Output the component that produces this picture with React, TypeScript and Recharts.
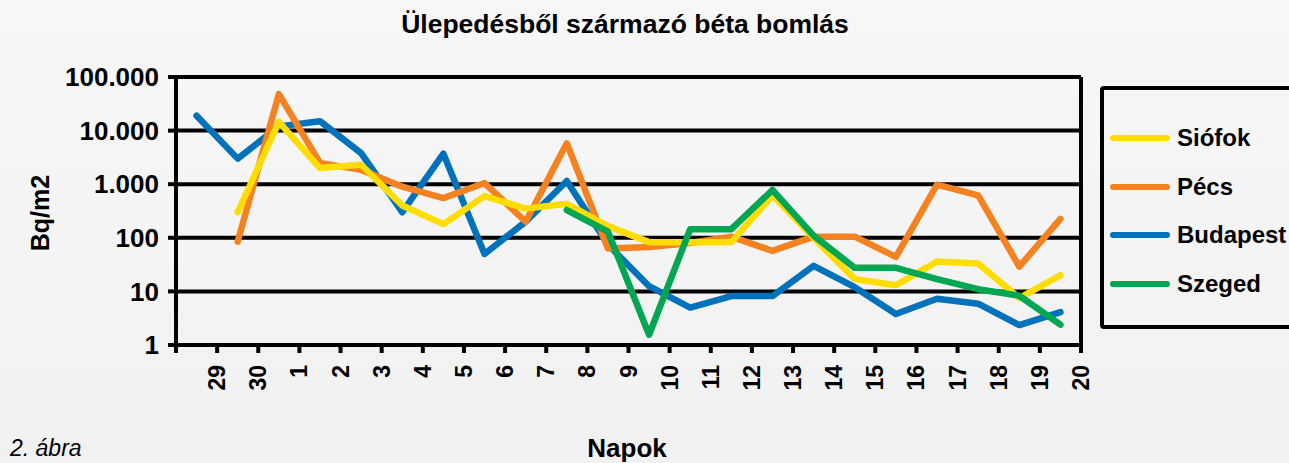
import React from 'react';
import { LineChart, Line, XAxis, YAxis, CartesianGrid, ReferenceLine } from 'recharts';

const days = ['29', '30', '1', '2', '3', '4', '5', '6', '7', '8', '9', '10', '11', '12', '13', '14', '15', '16', '17', '18', '19', '20'];

const budapest = [19000, 3000, 12000, 15000, 3800, 300, 3700, 50, 200, 1150, 75, 12.5, 5, 8.2, 8.2, 30, 12, 3.8, 7.3, 5.9, 2.35, 4.1];
const pecs = [null, 85, 48000, 2500, 1850, 900, 550, 1050, 200, 5800, 63, 67, 80, 105, 57, 105, 105, 44, 980, 620, 29, 225];
const siofok = [null, 300, 14500, 2000, 2300, 400, 180, 600, 350, 430, 165, 83, 83, 83, 620, 100, 17, 13, 36, 33, 7.5, 20];
const szeged = [null, null, null, null, null, null, null, null, null, 330, 130, 1.55, 145, 145, 780, 110, 27.5, 27.5, 17, 11, 8.3, 2.4];

const yTicks = [1, 10, 100, 1000, 10000, 100000];

const seriesNames = ['Budapest', 'Pécs', 'Siófok', 'Szeged'];
const seriesColors = ['#0072BC', '#F58220', '#FFDD00', '#00A651'];
const legendOrder = ['Siófok', 'Pécs', 'Budapest', 'Szeged'];

const data = days.map((d, i) => ({
  pos: i + 0.5,
  day: d,
  Budapest: budapest[i],
  'Pécs': pecs[i],
  'Siófok': siofok[i],
  Szeged: szeged[i],
}));

const xTicks = Array.from({ length: days.length + 1 }, (_, k) => k);

const FONT = '"Liberation Sans", Arial, Helvetica, sans-serif';

const fmt = (v: number) => String(v).replace(/\B(?=(\d{3})+(?!\d))/g, '.');

const XTick = (props: any) => {
  const { x, y, payload } = props;
  const k = payload.value;
  const label = k > 0 ? days[k - 1] : '';
  return (
    <text
      x={-10}
      y={0}
      transform={`translate(${x},${y}) rotate(-90)`}
      textAnchor="end"
      dominantBaseline="central"
      fontFamily={FONT}
      fontWeight="bold"
      fontSize={23}
      fill="#000"
    >
      {label}
    </text>
  );
};

const LegendBox = () => (
  <div
    style={{
      position: 'absolute',
      left: 1100,
      top: 86,
      border: '4px solid #000',
      borderRadius: 4,
      width: 220,
      height: 243,
      boxSizing: 'border-box',
      paddingTop: 24,
      fontFamily: FONT,
    }}
  >
    {legendOrder.map((name) => {
      const c = seriesColors[seriesNames.indexOf(name)];
      return (
        <div key={name} style={{ display: 'flex', alignItems: 'center', height: 48.5 }}>
          <div style={{ width: 60, height: 6, borderRadius: 3, background: c, marginLeft: 6, marginRight: 7 }} />
          <span style={{ fontWeight: 'bold', fontSize: 24, color: '#000' }}>{name}</span>
        </div>
      );
    })}
  </div>
);

export default function App() {
  return (
    <div
      style={{
        position: 'absolute',
        left: 0,
        top: 0,
        width: 1289,
        height: 463,
        overflow: 'hidden',
        background: 'linear-gradient(180deg, #f7f7f7 0%, #f1f1f1 100%)',
        fontFamily: FONT,
      }}
    >
      <div style={{ position: 'absolute', left: 0, top: 9, width: 1250, textAlign: 'center', fontWeight: 'bold', fontSize: 26.5, color: '#000' }}>
        Ülepedésből származó béta bomlás
      </div>
      <div
        style={{
          position: 'absolute',
          left: 40,
          top: 213,
          transform: 'translate(-50%, -50%) rotate(-90deg)',
          fontWeight: 'bold',
          fontSize: 25,
          whiteSpace: 'nowrap',
          color: '#000',
        }}
      >
        Bq/m2
      </div>
      <div style={{ position: 'absolute', left: 627, top: 448, transform: 'translate(-50%, -50%)', fontWeight: 'bold', fontSize: 26, color: '#000' }}>
        Napok
      </div>
      <div style={{ position: 'absolute', left: 10, top: 448, transform: 'translateY(-50%)', fontStyle: 'italic', fontSize: 23, color: '#000' }}>
        2. ábra
      </div>
      <LineChart width={1289} height={463} data={data} margin={{ top: 77, right: 208, bottom: 68, left: 0 }} style={{ position: 'absolute', left: 0, top: 0 }}>
        <CartesianGrid horizontal vertical={false} stroke="#000" strokeWidth={4} />
        <XAxis
          dataKey="pos"
          type="number"
          domain={[0, days.length]}
          ticks={xTicks}
          interval={0}
          height={50}
          axisLine={{ stroke: '#000', strokeWidth: 4 }}
          tickLine={{ stroke: '#000', strokeWidth: 4 }}
          tickSize={8}
          tickMargin={2}
          tick={<XTick />}
        />
        <YAxis
          scale="log"
          domain={[1, 100000]}
          ticks={yTicks}
          allowDataOverflow
          width={176}
          axisLine={{ stroke: '#000', strokeWidth: 4 }}
          tickLine={{ stroke: '#000', strokeWidth: 4 }}
          tickSize={8}
          tickMargin={9}
          tickFormatter={fmt}
          tick={{ fill: '#000', fontSize: 26, fontWeight: 'bold', fontFamily: FONT }}
        />
        <ReferenceLine x={days.length} stroke="#000" strokeWidth={4} />
        {seriesNames.map((name, i) => (
          <Line
            key={name}
            type="linear"
            dataKey={name}
            stroke={seriesColors[i]}
            strokeWidth={6.5}
            dot={false}
            activeDot={false}
            connectNulls={false}
            isAnimationActive={false}
            strokeLinecap="round"
            strokeLinejoin="round"
          />
        ))}
      </LineChart>
      <LegendBox />
    </div>
  );
}
